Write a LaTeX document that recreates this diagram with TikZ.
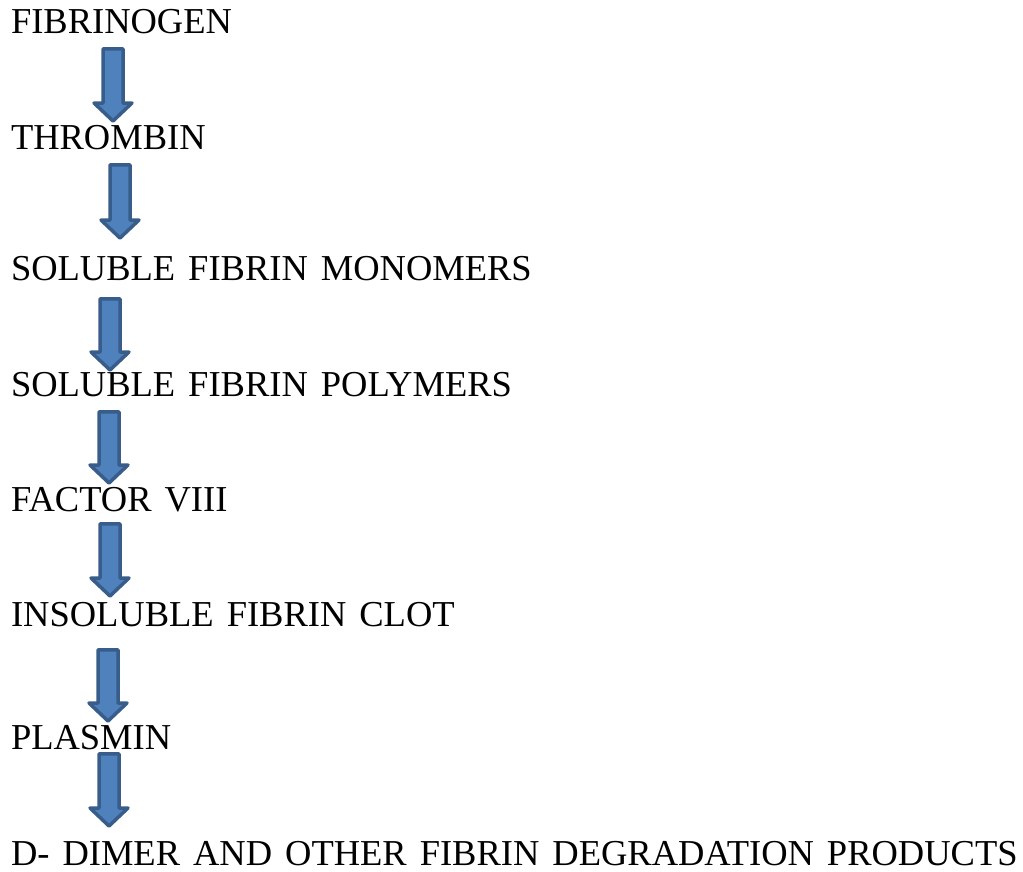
\documentclass[tikz,border=0pt]{standalone}
\usepackage{fontspec}
\setmainfont{Liberation Serif}
\usepackage{tikz}
\usetikzlibrary{positioning}

\definecolor{arrowfill}{HTML}{4F81BD}
\definecolor{arrowline}{HTML}{385D8A}
\newcommand\stagefont{\fontsize{36.5}{40}\selectfont\spaceskip=13pt\relax}

\begin{document}
\begin{tikzpicture}[
  x=1pt, y=-1pt,
  font=\stagefont,
  stage/.style={anchor=base west, inner sep=0pt, outer sep=0pt},
  blockarrow/.style={fill=arrowfill, draw=arrowline, line width=3.5pt, line join=round},
]
\useasboundingbox (0,0) rectangle (1023,871);

\node[stage] (fibrinogen) at (11,33) {FIBRINOGEN};
\node[stage] (thrombin) at (11,149) {THROMBIN};
\node[stage] (monomers) at (11,280) {SOLUBLE FIBRIN MONOMERS};
\node[stage] (polymers) at (11,396) {SOLUBLE FIBRIN POLYMERS};
\node[stage] (factor) at (11,511) {FACTOR VIII};
\node[stage] (clot) at (11,626) {INSOLUBLE FIBRIN CLOT};
\node[stage] (plasmin) at (11,749) {PLASMIN};
\node[stage] (ddimer) at (11,865) {D- DIMER AND OTHER FIBRIN DEGRADATION PRODUCTS};

% block arrows: centre x / top / tip
\foreach \cx/\ytop/\ytip in {113/47/123, 120/163/240, 110/297/372, 109/410/485,
                             110/522/598, 108/648/723, 109/752/828}
  \filldraw[blockarrow] ({\cx-10},{\ytop+1.75}) -- ({\cx+10},{\ytop+1.75})
    -- ({\cx+10},{\ytip-20}) -- ({\cx+19},{\ytip-20}) -- (\cx,{\ytip-2})
    -- ({\cx-19},{\ytip-20}) -- ({\cx-10},{\ytip-20}) -- cycle;
\end{tikzpicture}
\end{document}
